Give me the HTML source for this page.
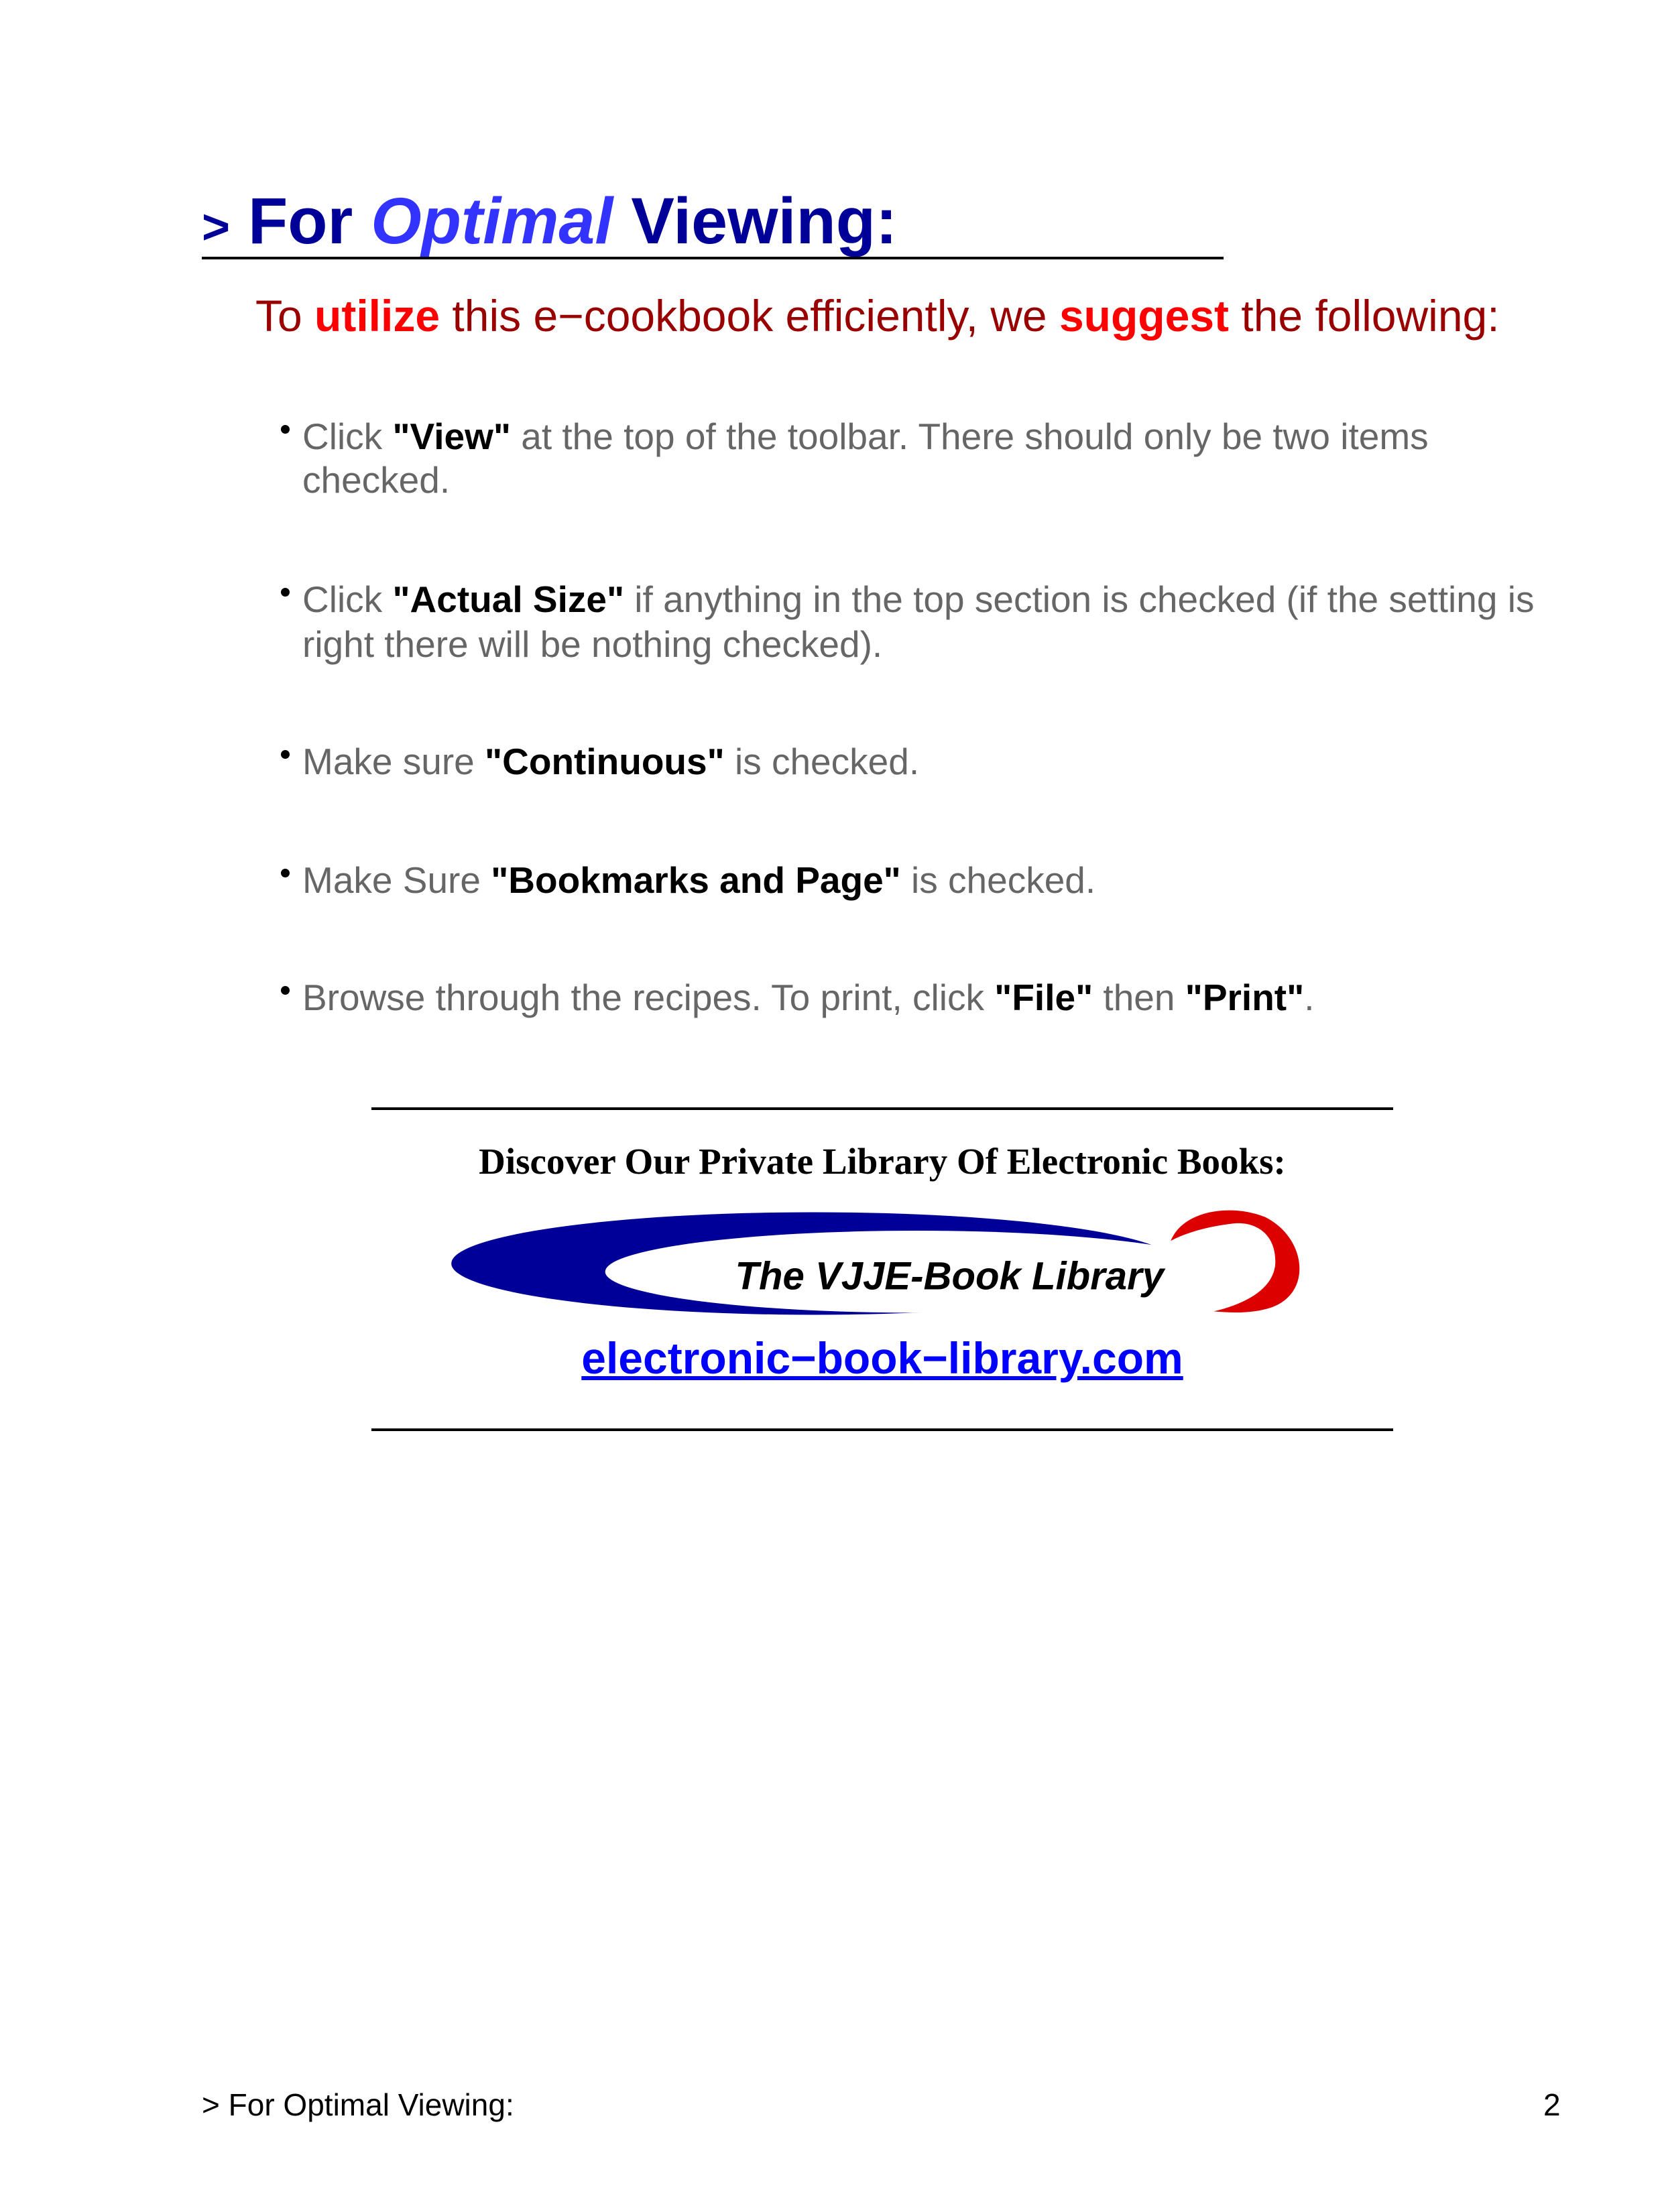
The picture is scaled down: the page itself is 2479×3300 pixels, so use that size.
<!DOCTYPE html>
<html><head><meta charset="utf-8"><style>
html,body{margin:0;padding:0;background:#fff;}
body{width:2479px;height:3300px;position:relative;overflow:hidden;font-family:"Liberation Sans",sans-serif;}
.a{position:absolute;line-height:1;white-space:nowrap;}
.g{color:#666;font-size:55px;}
.g b{color:#000;}
.dot{position:absolute;width:13px;height:13px;border-radius:50%;background:#000;}
</style></head><body>
<div class="a" style="left:301px;top:281px;font-size:97px;font-weight:bold;color:#000099;"><span style="font-size:72px">&gt;</span> For <i style="color:#3333ff">Optimal</i> Viewing:</div>
<div style="position:absolute;left:301px;top:383px;width:1524px;height:4px;background:#000"></div>
<div class="a" style="left:381px;top:438px;font-size:66px;color:#990000;">To <b style="color:#ff0000">utilize</b> this e&minus;cookbook efficiently, we <b style="color:#ff0000">suggest</b> the following:</div>

<div class="dot" style="left:419px;top:634px"></div>
<div class="a g" style="left:451px;top:624px">Click <b>"View"</b> at the top of the toolbar. There should only be two items</div>
<div class="a g" style="left:451px;top:689px">checked.</div>
<div class="dot" style="left:419px;top:877px"></div>
<div class="a g" style="left:451px;top:867px">Click <b>"Actual Size"</b> if anything in the top section is checked (if the setting is</div>
<div class="a g" style="left:451px;top:934px">right there will be nothing checked).</div>
<div class="dot" style="left:419px;top:1119px"></div>
<div class="a g" style="left:451px;top:1109px">Make sure <b>"Continuous"</b> is checked.</div>
<div class="dot" style="left:419px;top:1296px"></div>
<div class="a g" style="left:451px;top:1286px">Make Sure <b>"Bookmarks and Page"</b> is checked.</div>
<div class="dot" style="left:419px;top:1471px"></div>
<div class="a g" style="left:451px;top:1461px">Browse through the recipes. To print, click <b>"File"</b> then <b>"Print"</b>.</div>

<div style="position:absolute;left:554px;top:1652px;width:1524px;height:4px;background:#000"></div>
<div class="a" style="left:554px;width:1524px;text-align:center;top:1705px;font-family:'Liberation Serif',serif;font-weight:bold;font-size:55px;">Discover Our Private Library Of Electronic Books:</div>
<svg style="position:absolute;left:0;top:0" width="2479" height="3300">
<g transform="scale(1.02)">
<ellipse cx="1190" cy="1848" rx="530" ry="75" fill="#000099"/>
<ellipse cx="1340" cy="1860" rx="455" ry="60" fill="#fff"/>
<path d="M1712,1815 C1730,1770 1800,1760 1850,1780 C1910,1810 1920,1890 1860,1912 C1830,1922 1800,1920 1775,1918 C1830,1905 1865,1880 1865,1845 C1865,1800 1830,1785 1800,1790 C1760,1795 1730,1805 1712,1815 Z" fill="#dd0000"/>
<text x="1075" y="1886" font-family="Liberation Sans, sans-serif" font-weight="bold" font-style="italic" font-size="57" fill="#000">The VJJE-Book Library</text>
</g>
</svg>
<div class="a" style="left:554px;width:1524px;text-align:center;top:1993px;font-size:66px;font-weight:bold;color:#0000ff;text-decoration:underline;">electronic&minus;book&minus;library.com</div>
<div style="position:absolute;left:554px;top:2131px;width:1524px;height:4px;background:#000"></div>

<div class="a" style="left:301px;top:3117px;font-size:46px;">&gt; For Optimal Viewing:</div>
<div class="a" style="left:2302px;top:3117px;font-size:46px;">2</div>
</body></html>
